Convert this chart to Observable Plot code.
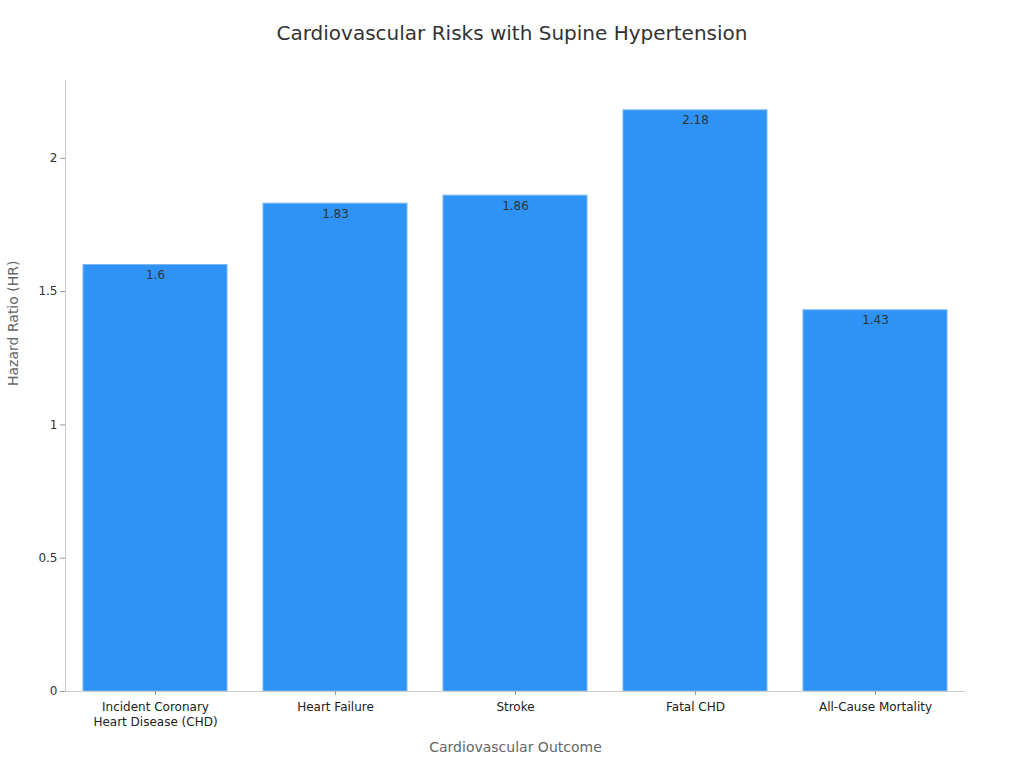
<!DOCTYPE html>
<html><head><meta charset="utf-8">
<script src="https://cdn.jsdelivr.net/npm/d3@7"></script>
<script src="https://cdn.jsdelivr.net/npm/@observablehq/plot@0.6"></script>
<style>
body{margin:0;background:#fff;font-family:"DejaVu Sans",sans-serif;}
#title{height:61px;text-align:center;font-size:20px;color:#333;line-height:66px;}
</style></head><body>
<div id="title">Cardiovascular Risks with Supine Hypertension</div>
<div id="chart"></div>
<script>
const outcomes = ["Incident Coronary\nHeart Disease (CHD)", "Heart Failure", "Stroke", "Fatal CHD", "All-Cause Mortality"];
const hazardRatios = [1.6, 1.83, 1.86, 2.18, 1.43];
const yTicks = [0, 0.5, 1, 1.5, 2];

const data = outcomes.map((o, i) => ({outcome: o, hr: hazardRatios[i]}));

const chart = Plot.plot({
  width: 1024,
  height: 707,
  marginTop: 19,
  marginBottom: 77,
  marginLeft: 65,
  marginRight: 59,
  style: {fontFamily: "DejaVu Sans, sans-serif", fontSize: "12px", color: "#333", background: "#fff"},
  x: {domain: outcomes, paddingInner: 0.2, paddingOuter: 0.1, label: null},
  y: {domain: [0, 2.292], label: null},
  marks: [
    Plot.barY(data, {x: "outcome", y: "hr", fill: "#2f92f5", stroke: "#7ab8f5", strokeWidth: 1}),
    Plot.text(data, {x: "outcome", y: "hr", text: d => String(d.hr), dy: 10, fill: "#333", fontSize: 12}),
    Plot.frame({anchor: "left", stroke: "#ccc"}),
    Plot.ruleY([0], {stroke: "#ccc"}),
    Plot.axisY(yTicks, {tickSize: 5, stroke: "#999", tickPadding: 3, fill: "#333", fontSize: 12, label: null, tickFormat: d => String(d)}),
    Plot.axisX({tickSize: 4, stroke: "#999", tickPadding: 4, fill: "#222", fontSize: 12, label: null, lineHeight: 1.3}),
    Plot.text(["Cardiovascular Outcome"], {frameAnchor: "bottom", dy: 60, fontSize: 14, fill: "#666"}),
    Plot.text(["Hazard Ratio (HR)"], {frameAnchor: "left", dx: -52, rotate: -90, fontSize: 14, fill: "#666"})
  ]
});
document.getElementById("chart").append(chart);
</script>
</body></html>
